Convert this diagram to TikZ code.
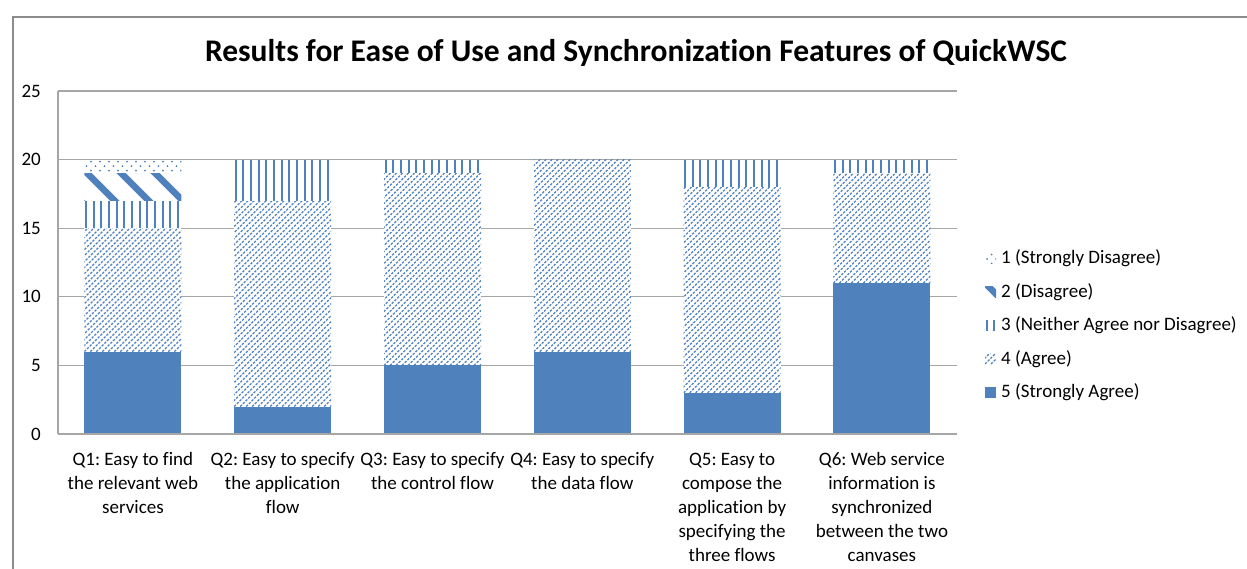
\documentclass[tikz,border=0pt]{standalone}
\usepackage{fontspec}
\setmainfont{Carlito}[Ligatures=NoCommon]
\definecolor{barblue}{HTML}{4F81BD}
\definecolor{gridgray}{HTML}{A6A6A6}
\definecolor{framegray}{HTML}{8C8C8C}

% fill styles for the five answer categories; arguments: left, top, right, bottom
\newcommand\patsolid[4]{\fill[barblue] (#1,#2) rectangle (#3,#4);}
\newcommand\pathatch[4]{%
  \begin{scope}
    \clip (#1,#2) rectangle (#3,#4);
    \foreach \ii in {-234,-228,...,110}
      \draw[barblue,line width=1.2pt,dash pattern=on 2.4pt off 1.4pt]
        ({#1+(\ii)},#4) -- ++(240,-240);
  \end{scope}}
\newcommand\patvert[4]{%
  \begin{scope}
    \clip (#1,#2) rectangle (#3,#4);
    \foreach \ii in {1.5,9.17,...,98}
      \draw[barblue,line width=2pt] ({#1+\ii},#2) -- ({#1+\ii},#4);
  \end{scope}}
\newcommand\patwide[4]{%
  \begin{scope}
    \clip (#1,#2) rectangle (#3,#4);
    \foreach \ii in {-68,-34,...,100}
      \draw[barblue,line width=6.5pt] ({#1+(\ii)},{#2-3}) -- ++(60,60);
  \end{scope}}
\newcommand\patdots[4]{%
  \begin{scope}
    \clip (#1,#2) rectangle (#3,#4);
    \foreach \ry [count=\rn] in {2,6.5,...,30}
      \foreach \rx in {2,11,...,100}
        \fill[barblue] ({#1+\rx+4.5*mod(\rn,2)},{#2+\ry}) circle (1);
  \end{scope}}

% one stacked segment: category, lower value, upper value, fill kind
\newcommand\barseg[4]{%
  \pgfmathsetmacro\segxa{58+149.8*(#1-0.5)-48.5}%
  \pgfmathsetmacro\segxb{\segxa+97}%
  \pgfmathsetmacro\segya{434-13.72*#3}%
  \pgfmathsetmacro\segyb{434-13.72*#2}%
  \fill[white] (\segxa,\segya) rectangle (\segxb,\segyb);
  \csname pat#4\endcsname{\segxa}{\segya}{\segxb}{\segyb}}

\begin{document}
\frenchspacing
\begin{tikzpicture}[x=1pt,y=-1pt,
  lbl/.style={font=\fontsize{19}{24}\selectfont, inner sep=0pt},
  catlabel/.style={lbl, align=center, anchor=north, execute at begin node=\strut},
  ticklabel/.style={lbl, anchor=base east},
  legtext/.style={lbl, anchor=base west},
  grid line/.style={gridgray, line width=1.3pt}]
\useasboundingbox (0,0) rectangle (1247,568);
\fill[white] (0,0) rectangle (1247,568);

% chart frame
\begin{scope}
  \clip (0,0) rectangle (1247,568);
  \draw[framegray, line width=1.2pt] (13,17) rectangle (1300,620);
\end{scope}

% title
\node[inner sep=0pt, anchor=base, font=\fontsize{31.5}{38}\selectfont\bfseries] (title)
  at (636,61) {Results for Ease of Use and Synchronization Features of QuickWSC};

% value axis with grid
\foreach \v in {0,5,...,25} {
  \pgfmathsetmacro\gy{434-13.72*\v}
  \draw[grid line] (58,\gy) -- (957,\gy);
  \node[ticklabel] (tick\v) at (41,\gy+6) {\v};
}
\draw[grid line] (58,91) -- (58,434);

% stacked bars
\barseg{1}{0}{6}{solid}   \barseg{1}{6}{15}{hatch}  \barseg{1}{15}{17}{vert}
\barseg{1}{17}{19}{wide}  \barseg{1}{19}{20}{dots}
\barseg{2}{0}{2}{solid}   \barseg{2}{2}{17}{hatch}  \barseg{2}{17}{20}{vert}
\barseg{3}{0}{5}{solid}   \barseg{3}{5}{19}{hatch}  \barseg{3}{19}{20}{vert}
\barseg{4}{0}{6}{solid}   \barseg{4}{6}{20}{hatch}
\barseg{5}{0}{3}{solid}   \barseg{5}{3}{18}{hatch}  \barseg{5}{18}{20}{vert}
\barseg{6}{0}{11}{solid}  \barseg{6}{11}{19}{hatch} \barseg{6}{19}{20}{vert}
\draw[grid line] (58,434) -- (957,434);

% category labels
\node[catlabel] (q1) at (132.9,452.5) {Q1: Easy to find\\the relevant web\\services};
\node[catlabel] (q2) at (282.7,452.5) {Q2: Easy to specify\\the application\\flow};
\node[catlabel] (q3) at (432.5,452.5) {Q3: Easy to specify\\the control flow};
\node[catlabel] (q4) at (582.3,452.5) {Q4: Easy to specify\\the data flow};
\node[catlabel] (q5) at (732.1,452.5) {Q5: Easy to\\compose the\\application by\\specifying the\\three flows};
\node[catlabel] (q6) at (881.9,452.5) {Q6: Web service\\information is\\synchronized\\between the two\\canvases};

% legend
\foreach \k/\kind/\txt [count=\n] in {1/dots/1 (Strongly Disagree),
    2/wide/2 (Disagree), 3/vert/3 (Neither Agree nor Disagree),
    4/hatch/4 (Agree), 5/solid/5 (Strongly Agree)} {
  \pgfmathsetmacro\ly{263.5+33.5*(\n-1)}
  \csname pat\kind\endcsname{985}{\ly-11}{996}{\ly}
  \node[legtext] (leg\k) at (1001,\ly) {\txt};
}
\end{tikzpicture}
\end{document}
